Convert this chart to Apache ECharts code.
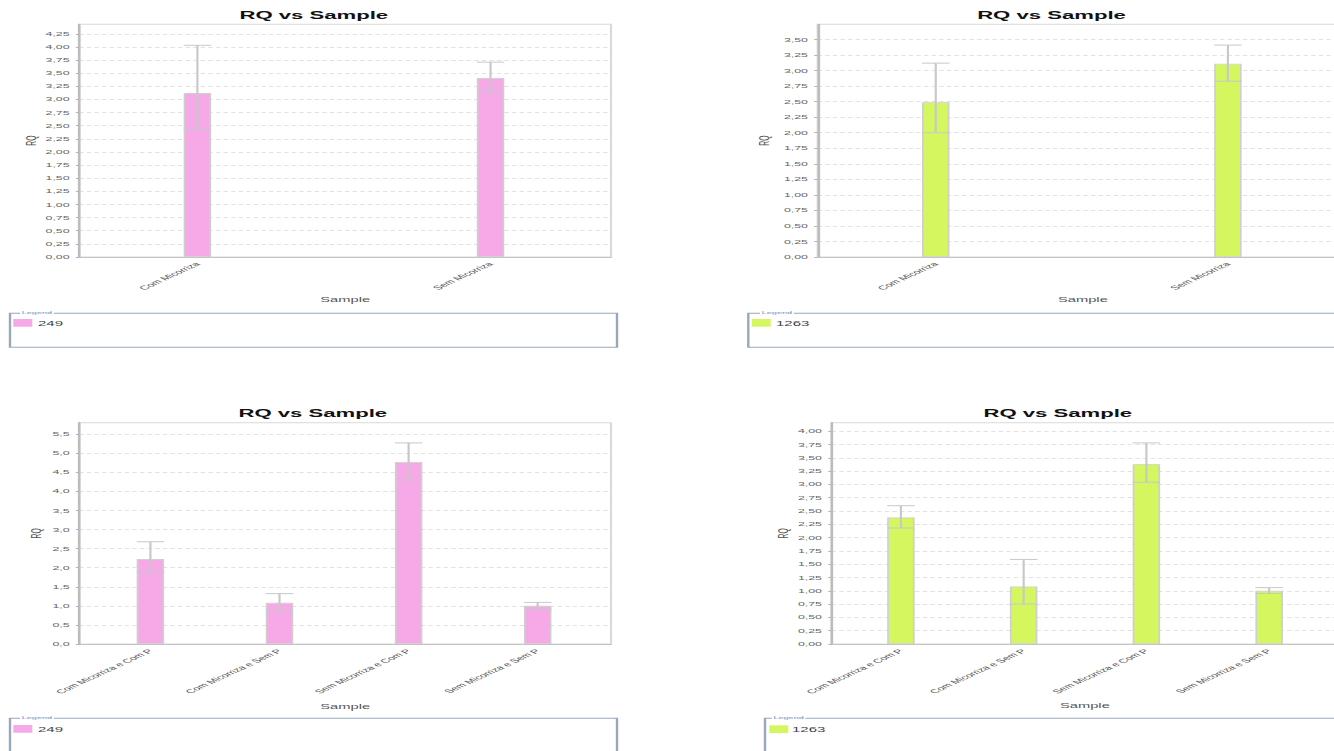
<!DOCTYPE html>
<html>
<head>
<meta charset="utf-8">
<title>RQ vs Sample</title>
<script src="https://cdn.jsdelivr.net/npm/echarts@6/dist/echarts.min.js"></script>
<style>
  html, body { margin: 0; padding: 0; background: #fff; overflow: hidden; }
  #wrap { width: 1334px; height: 751px; overflow: hidden; position: relative; }
  /* the charts are laid out in a narrow frame and stretched horizontally */
  #chart { position: absolute; left: 0; top: 0; width: 615px; height: 751px;
           transform: scaleX(2.16911); transform-origin: 0 0; }
</style>
</head>
<body>
<div id="wrap"><div id="chart"></div></div>
<script>
// ---- data -------------------------------------------------------------
const samples2 = ['Com Micorriza', 'Sem Micorriza'];
const samples4 = ['Com Micorriza e Com P', 'Com Micorriza e Sem P',
                  'Sem Micorriza e Com P', 'Sem Micorriza e Sem P'];

// target 249, two samples
const rq249a    = [3.12, 3.41];
const rqMin249a = [2.44, 3.14];
const rqMax249a = [4.03, 3.71];

// target 1263, two samples
const rq1263a    = [2.49, 3.11];
const rqMin1263a = [2.00, 2.83];
const rqMax1263a = [3.12, 3.41];

// target 249, four samples
const rq249b    = [2.23, 1.08, 4.77, 1.00];
const rqMin249b = [1.88, 0.87, 4.30, 0.92];
const rqMax249b = [2.68, 1.32, 5.27, 1.09];

// target 1263, four samples
const rq1263b    = [2.38, 1.08, 3.38, 1.00];
const rqMin1263b = [2.18, 0.75, 3.04, 0.95];
const rqMax1263b = [2.60, 1.59, 3.78, 1.06];

// value axis: upper end, tick step, decimals of the tick labels
const yTop      = [4.43, 3.745, 5.8, 4.16];
const yStep     = [0.25, 0.25, 0.5, 0.25];
const yDecimals = [2, 2, 1, 2];

// ---- styling ------------------------------------------------------------
const S = 1334 / 615;            // horizontal stretch of the frame
const sx = v => v / S;           // page x -> frame x
const FONT = '"Liberation Sans", Arial, sans-serif';
const PINK = '#f6a8e7';
const GREEN = '#d4f65f';
const BAR_W = 27.5;              // page px

const panels = [
  { name: '249', cats: samples2, rq: rq249a, lo: rqMin249a, hi: rqMax249a, color: PINK,
    plot: [79.3, 24.3, 611, 257], xr: [-0.403, 1.411], titleX: 313.8, titleTop: 10.5,
    rqX: 31, sampleY: 300, box: [10, 313.3, 617, 347.3], sw: [13.3, 319], txtX: 38, txtY: 323, capX: 20 },
  { name: '1263', cats: samples2, rq: rq1263a, lo: rqMin1263a, hi: rqMax1263a, color: GREEN,
    plot: [817.7, 24.3, 1348, 257], xr: [-0.404, 1.411], titleX: 1051.5, titleTop: 10.5,
    rqX: 764, sampleY: 300, box: [748.3, 313.3, 1355, 347.3], sw: [751.7, 319], txtX: 776, txtY: 323, capX: 760 },
  { name: '249', cats: samples4, rq: rq249b, lo: rqMin249b, hi: rqMax249b, color: PINK,
    plot: [79.3, 422.7, 611, 644], xr: [-0.551, 3.568], titleX: 312.8, titleTop: 408,
    rqX: 36.3, sampleY: 707, box: [10, 718.3, 617, 760], sw: [13.3, 725], txtX: 38, txtY: 729, capX: 20 },
  { name: '1263', cats: samples4, rq: rq1263b, lo: rqMin1263b, hi: rqMax1263b, color: GREEN,
    plot: [831.7, 422.7, 1338, 644], xr: [-0.564, 3.561], titleX: 1057.8, titleTop: 408,
    rqX: 783, sampleY: 706, box: [765, 718.3, 1380, 760], sw: [769.3, 725.3], txtX: 792, txtY: 729, capX: 771.7 }
];

const option = {
  animation: false,
  backgroundColor: '#ffffff',
  textStyle: { fontFamily: FONT },
  title: [], grid: [], xAxis: [], yAxis: [], series: [], graphic: []
};

panels.forEach((p, k) => {
  const [x0, y0, x1, y1] = p.plot;
  const dec = yDecimals[k];

  option.title.push({
    text: 'RQ vs Sample', left: sx(p.titleX), top: p.titleTop, textAlign: 'center', padding: 0,
    textStyle: { fontFamily: FONT, fontSize: 10.2, fontWeight: 'bold', color: '#111' }
  });

  option.grid.push({
    left: sx(x0), top: y0, width: sx(x1 - x0), height: y1 - y0,
    show: true, borderColor: '#d9d9d9', borderWidth: 1, backgroundColor: '#fff',
    containLabel: false, outerBoundsMode: 'none'
  });

  option.xAxis.push({
    gridIndex: k, type: 'value', min: p.xr[0], max: p.xr[1],
    name: 'Sample', nameLocation: 'middle', nameGap: p.sampleY - y1 - 3.5, nameMoveOverlap: false,
    nameTextStyle: { fontFamily: FONT, fontSize: 6.8, color: '#555' },
    axisLine: { show: true, onZero: false, lineStyle: { color: '#c4c4c4', width: 1 } },
    axisTick: { show: false },
    splitLine: { show: false },
    axisLabel: {
      customValues: p.cats.map((c, i) => i),
      formatter: v => p.cats[Math.round(v)] || '',
      rotate: 45, fontFamily: FONT, fontSize: 5.7, color: '#555', margin: 6
    }
  });

  option.yAxis.push({
    gridIndex: k, type: 'value', min: 0, max: yTop[k], interval: yStep[k],
    name: 'RQ', nameLocation: 'middle', nameGap: sx(x0 - p.rqX) - 3.4, nameMoveOverlap: false,
    nameTextStyle: { fontFamily: FONT, fontSize: 6.8, color: '#555' },
    axisLine: { show: true, onZero: false, lineStyle: { color: '#bcbcbc', width: 1.2 } },
    axisTick: { show: true, length: 1.6, lineStyle: { color: '#b5b5b5' } },
    axisLabel: {
      fontFamily: FONT, fontSize: 5.7, color: '#666', margin: 4.5, showMaxLabel: false,
      formatter: v => v.toFixed(dec).replace('.', ',')
    },
    splitLine: { show: true, lineStyle: { color: '#e2e2e2', width: 1, type: [2, 1.5] } }
  });

  option.series.push({
    type: 'bar', name: p.name, xAxisIndex: k, yAxisIndex: k,
    barWidth: sx(BAR_W),
    data: p.rq.map((v, i) => [i, v]),
    itemStyle: { color: p.color, borderColor: '#cfcfcf', borderWidth: 0.8 },
    z: 2
  });

  // RQ min / RQ max whiskers
  option.series.push({
    type: 'custom', xAxisIndex: k, yAxisIndex: k, silent: true, z: 3,
    data: p.rq.map((v, i) => [i, p.lo[i], p.hi[i]]),
    encode: { x: 0, y: [1, 2] },
    renderItem: (params, api) => {
      const x = api.value(0);
      const lo = api.coord([x, api.value(1)]);
      const hi = api.coord([x, api.value(2)]);
      const h = sx(BAR_W) / 2;
      const st = { stroke: '#c8c8c8', lineWidth: 1 };
      return {
        type: 'group', children: [
          { type: 'line', shape: { x1: lo[0], y1: lo[1], x2: hi[0], y2: hi[1] }, style: st },
          { type: 'line', shape: { x1: hi[0] - h, y1: hi[1], x2: hi[0] + h, y2: hi[1] }, style: st },
          { type: 'line', shape: { x1: lo[0] - h, y1: lo[1], x2: lo[0] + h, y2: lo[1] }, style: st }
        ]
      };
    }
  });

  // legend panel
  const [bx0, by0, bx1, by1] = p.box;
  option.graphic.push(
    { type: 'rect', silent: true,
      shape: { x: sx(bx0), y: by0, width: sx(bx1 - bx0), height: by1 - by0 },
      style: { fill: '#fff', stroke: '#97a8ba', lineWidth: 1.1 } },
    { type: 'text', silent: true, x: sx(p.capX), y: by0,
      style: { text: 'Legend', font: '4.2px ' + FONT, fill: '#6d8fc5',
               verticalAlign: 'middle', align: 'left', backgroundColor: '#fff', padding: [0, 0.8] } },
    { type: 'rect', silent: true,
      shape: { x: sx(p.sw[0]), y: p.sw[1], width: sx(19), height: 7.7 },
      style: { fill: p.color } },
    { type: 'text', silent: true, x: sx(p.txtX), y: p.txtY,
      style: { text: p.name, font: '6.9px ' + FONT, fill: '#444',
               verticalAlign: 'middle', align: 'left' } }
  );
});

const chart = echarts.init(document.getElementById('chart'), null,
  { renderer: 'svg', width: 615, height: 751 });
chart.setOption(option);
</script>
</body>
</html>
